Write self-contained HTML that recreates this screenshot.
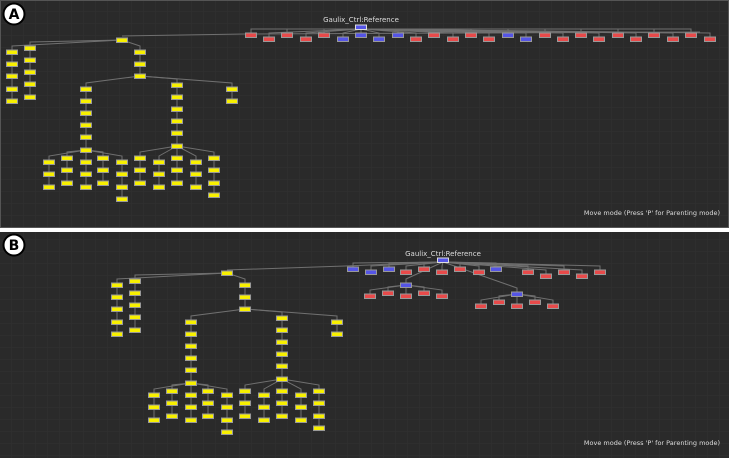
<!DOCTYPE html>
<html><head><meta charset="utf-8"><style>
html,body{margin:0;padding:0;background:#fff}
svg{display:block}
text{font-family:"DejaVu Sans","Liberation Sans",sans-serif}
</style></head><body>
<svg id="s" width="729" height="458" xmlns="http://www.w3.org/2000/svg">
<defs>
<pattern id="g" width="12" height="12" patternUnits="userSpaceOnUse">
<rect width="12" height="12" fill="#2a2a2a"/>
<path d="M12 0V12M0 12H12" stroke="#313131" stroke-width="1"/>
</pattern>
</defs>
<rect x="0" y="0" width="729" height="228" fill="url(#g)"/>
<rect x="0.5" y="0.5" width="728" height="227" fill="none" stroke="#555"/>
<rect x="0" y="229" width="729" height="3" fill="#fff"/>
<rect x="0" y="232" width="729" height="226" fill="url(#g)"/>
<g id="edges" stroke="#707070" stroke-width="1" fill="none"></g>
<g id="nodes" stroke="#999" stroke-width="1"></g>
<text x="361" y="22" font-size="7" fill="#ddd" text-anchor="middle">Gaulix_Ctrl:Reference</text>
<text x="443" y="256" font-size="7" fill="#ddd" text-anchor="middle">Gaulix_Ctrl:Reference</text>
<text x="652" y="215" font-size="6.5" fill="#ddd" text-anchor="middle">Move mode (Press 'P' for Parenting mode)</text>
<text x="652" y="445" font-size="6.5" fill="#ddd" text-anchor="middle">Move mode (Press 'P' for Parenting mode)</text>
<circle cx="14" cy="14" r="10.5" fill="#fff" stroke="#000" stroke-width="2"/>
<text x="14" y="19" font-size="14" font-weight="bold" fill="#000" text-anchor="middle">A</text>
<circle cx="14" cy="245" r="10.5" fill="#fff" stroke="#000" stroke-width="2"/>
<text x="14" y="250" font-size="14" font-weight="bold" fill="#000" text-anchor="middle">B</text>
</svg>
<script>
var E=document.getElementById('edges'),N=document.getElementById('nodes'),ns='http://www.w3.org/2000/svg';
var C={y:'#f8f000',r:'#e84a4a',b:'#5555e6'};
function node(x,y,c,ref){var r=document.createElementNS(ns,'rect');r.setAttribute('x',x-5.5);r.setAttribute('y',y-2);r.setAttribute('width',11);r.setAttribute('height',4.5);r.setAttribute('fill',C[c]);if(ref){r.setAttribute('stroke','#ddd');}N.appendChild(r);}
function edge(a,b,c,d){var p=document.createElementNS(ns,'polyline');p.setAttribute('points',a+','+b+' '+c+','+(d-6)+' '+c+','+d);E.appendChild(p);}
function line(a,b,c,d){var p=document.createElementNS(ns,'line');p.setAttribute('x1',a);p.setAttribute('y1',b);p.setAttribute('x2',c);p.setAttribute('y2',d);E.appendChild(p);}
function chain(x,ys,c,dx,dy){for(var i=0;i<ys.length;i++){node(x+dx,ys[i]+dy,c);if(i)line(x+dx,ys[i-1]+dy,x+dx,ys[i]+dy);}}
function yellow(dx,dy){
 var R=[122,40];
 var col1=[[12,[52,64,76,89,101]],[30,[48,60,72,84,97]],[140,[52,64,76]]];
 col1.forEach(function(c){edge(R[0]+dx,R[1]+dy,c[0]+dx,c[1][0]+dy);});
 var mids=[[86,[89,101,113,125,137,150]],[177,[85,97,109,121,133,146]],[232,[89,101]]];
 mids.forEach(function(c){edge(140+dx,76+dy,c[0]+dx,c[1][0]+dy);});
 var l1=[[49,[162,174,187]],[67,[158,170,183]],[86,[162,174,187]],[103,[158,170,183]],[122,[162,174,187,199]]];
 var l2=[[140,[158,170,183]],[159,[162,174,187]],[177,[158,170,183]],[196,[162,174,187]],[214,[158,170,183,195]]];
 l1.forEach(function(c){edge(86+dx,150+dy,c[0]+dx,c[1][0]+dy);});
 l2.forEach(function(c){edge(177+dx,146+dy,c[0]+dx,c[1][0]+dy);});
 node(R[0]+dx,R[1]+dy,'y');
 col1.concat(mids,l1,l2).forEach(function(c){chain(c[0],c[1],'y',dx,dy);});
}
var rowA=[[251,'r'],[269,'r'],[287,'r'],[306,'r'],[324,'r'],[343,'b'],[361,'b'],[379,'b'],[398,'b'],[416,'r'],[434,'r'],[453,'r'],[471,'r'],[489,'r'],[508,'b'],[526,'b'],[545,'r'],[563,'r'],[581,'r'],[599,'r'],[618,'r'],[636,'r'],[654,'r'],[673,'r'],[691,'r'],[710,'r']];
line(122,36,245,34);line(245,34,700,32);
rowA.forEach(function(n,i){var y=i%2?39:35;edge(361,29,n[0],y);});
yellow(0,0);
rowA.forEach(function(n,i){node(n[0],i%2?39:35,n[1]);});
node(361,27,'b',1);
var rowB=[[353,269,'b'],[371,272,'b'],[389,269,'b'],[406,272,'r'],[424,269,'r'],[442,272,'r'],[460,269,'r'],[479,272,'r'],[496,269,'b'],[528,272,'r'],[546,276,'r'],[564,272,'r'],[582,276,'r'],[600,272,'r']];
line(227,270,345,266);line(345,266,443,262);
rowB.forEach(function(n){edge(443,262,n[0],n[1]);});
edge(443,262,406,285);edge(443,262,517,294);
var s1=[[370,296],[388,293],[406,296],[424,293],[442,296]],s2=[[481,306],[499,302],[517,306],[535,302],[553,306]];
s1.forEach(function(n){edge(406,285,n[0],n[1]);});
s2.forEach(function(n){edge(517,294,n[0],n[1]);});
yellow(105,233);
rowB.forEach(function(n){node(n[0],n[1],n[2]);});
node(406,285,'b');node(517,294,'b');
s1.concat(s2).forEach(function(n){node(n[0],n[1],'r');});
node(443,260,'b',1);
</script>
</body></html>
